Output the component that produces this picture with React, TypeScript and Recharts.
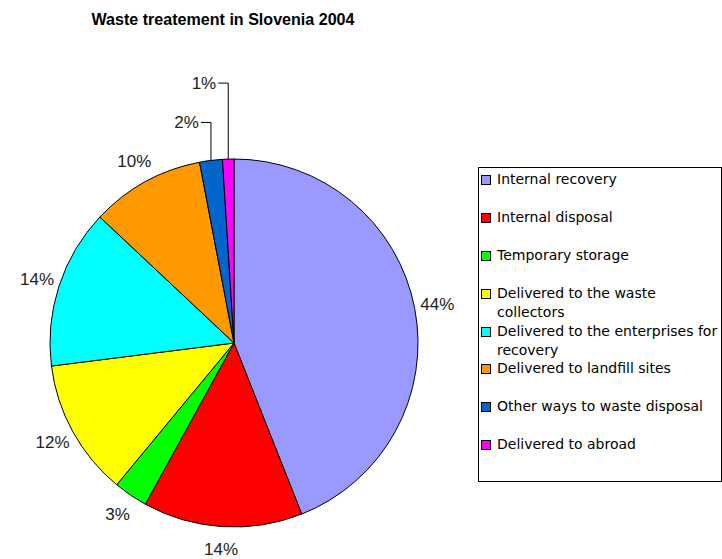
import { PieChart, Pie, Cell, Legend } from 'recharts';

const categories = [
  'Internal recovery',
  'Internal disposal',
  'Temporary storage',
  'Delivered to the waste collectors',
  'Delivered to the enterprises for recovery',
  'Delivered to landfill sites',
  'Other ways to waste disposal',
  'Delivered to abroad',
];
const shares = [44, 14, 3, 12, 14, 10, 2, 1];
const colors = ['#9999FF', '#FF0000', '#00FF00', '#FFFF00', '#00FFFF', '#FF9900', '#0066CC', '#FF00FF'];

const data = categories.map((name, i) => ({ name, value: shares[i] }));

const RADIAN = Math.PI / 180;
// small slices get a leader line going straight up, then left
const leaderRise: Record<number, number> = { 6: 38, 7: 76 };

function renderLabel(props: any) {
  const { cx, cy, midAngle, outerRadius, index, value } = props;
  const cos = Math.cos(-midAngle * RADIAN);
  const sin = Math.sin(-midAngle * RADIAN);
  const style = { fontFamily: 'Liberation Sans, Arial, sans-serif', fontSize: 17, fill: '#222' };
  if (leaderRise[index] !== undefined) {
    const x0 = cx + outerRadius * cos;
    const y0 = cy + outerRadius * sin;
    const y1 = y0 - leaderRise[index];
    return (
      <g key={`lbl-${index}`}>
        <polyline points={`${x0},${y0} ${x0},${y1} ${x0 - 10},${y1}`} fill="none" stroke="#000" strokeWidth={1} />
        <text x={x0 - 12} y={y1} textAnchor="end" dominantBaseline="central" {...style}>
          {`${value}%`}
        </text>
      </g>
    );
  }
  const r = outerRadius + 23;
  const x = cx + r * cos;
  const y = cy + r * sin;
  return (
    <text key={`lbl-${index}`} x={x} y={y} textAnchor="middle" dominantBaseline="central" {...style}>
      {`${value}%`}
    </text>
  );
}

function renderLegend() {
  return (
    <div
      style={{
        width: 242,
        height: 311,
        border: '1px solid #000',
        boxSizing: 'content-box',
        paddingTop: 2,
        fontFamily: 'DejaVu Sans, Verdana, sans-serif',
        fontSize: 14,
        color: '#000',
      }}
    >
      {data.map((d, i) => (
        <div key={d.name} style={{ display: 'flex', alignItems: 'flex-start', height: 37.9, lineHeight: '19px' }}>
          <span
            style={{
              display: 'inline-block',
              width: 8,
              height: 8,
              background: colors[i],
              border: '1px solid #000',
              margin: '5px 6px 0 2px',
              flexShrink: 0,
            }}
          />
          <span style={{ width: 226 }}>{d.name}</span>
        </div>
      ))}
    </div>
  );
}

export default function App() {
  return (
    <div style={{ position: 'absolute', left: 0, top: 0, width: 722, height: 559, background: '#fff' }}>
      <PieChart width={722} height={559} margin={{ top: 0, right: 0, bottom: 0, left: 0 }}>
        <text
          x={223}
          y={19}
          textAnchor="middle"
          dominantBaseline="central"
          textLength={263}
          lengthAdjust="spacingAndGlyphs"
          style={{ fontFamily: 'Liberation Sans, Arial, sans-serif', fontSize: 17, fontWeight: 'bold' }}
        >
          Waste treatement in Slovenia 2004
        </text>
        <Pie
          data={data}
          dataKey="value"
          nameKey="name"
          cx={234}
          cy={343}
          outerRadius={184}
          startAngle={90}
          endAngle={-270}
          stroke="#000"
          strokeWidth={1}
          label={renderLabel}
          labelLine={false}
          isAnimationActive={false}
        >
          {data.map((d, i) => (
            <Cell key={d.name} fill={colors[i]} />
          ))}
        </Pie>
        <Legend
          content={renderLegend}
          wrapperStyle={{ position: 'absolute', left: 478, top: 167, width: 244, height: 313 }}
        />
      </PieChart>
    </div>
  );
}
